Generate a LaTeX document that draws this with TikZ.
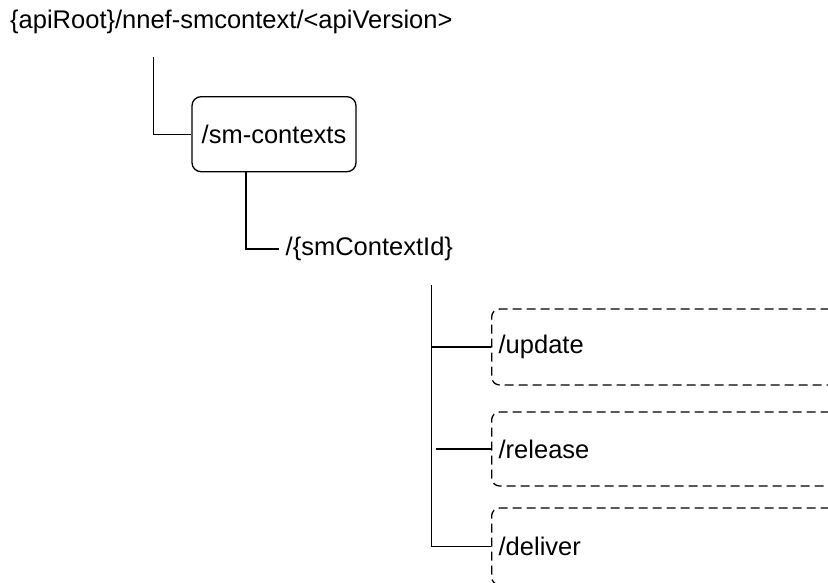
\documentclass[tikz,border=0pt]{standalone}
\usepackage{fontspec}
\setmainfont{Liberation Sans}
\begin{document}
\begin{tikzpicture}[x=1pt,y=-1pt,
  every node/.style={font=\fontsize{25.5}{30}\selectfont},
  conn/.style={line width=1.3pt},
  solidbox/.style={draw,line width=1.3pt,rounded corners=9pt,minimum width=164pt,minimum height=75pt,inner sep=0pt},
  dashbox/.style={draw,line width=1.3pt,rounded corners=8pt,dash pattern=on 9pt off 5pt,
     text width=346pt,align=left,inner xsep=7pt,inner ysep=0pt,anchor=west},
  plain/.style={inner sep=0pt}]
\useasboundingbox (0,0) rectangle (828,582);
\node[plain,anchor=base west] (title) at (10,28) {\{apiRoot\}/nnef-smcontext/<apiVersion>};
\node[solidbox] (sm) at (274,134.2) {/sm-contexts};
\node[plain,anchor=west] (ctx) at (285.5,249) {/\{smContextId\}};
\node[dashbox,minimum height=76pt] (upd) at (491,347) {/update};
\node[dashbox,minimum height=74pt] (rel) at (491,449) {/release};
\node[dashbox,minimum height=77pt] (del) at (491,546.5) {/deliver};
\coordinate (t1) at (153.5,57);
\coordinate (c1) at (246,171.7);
\coordinate (c2) at (431.7,285);
\draw[conn] (t1) |- (sm.west);
\draw[conn] (c1) |- ([xshift=-7pt]ctx.west);
\draw[conn] (c2) |- (del.west);
\draw[conn] (c2 |- upd.west) -- (upd.west);
\draw[conn] ([xshift=4pt]c2 |- rel.west) -- (rel.west);
\end{tikzpicture}
\end{document}
